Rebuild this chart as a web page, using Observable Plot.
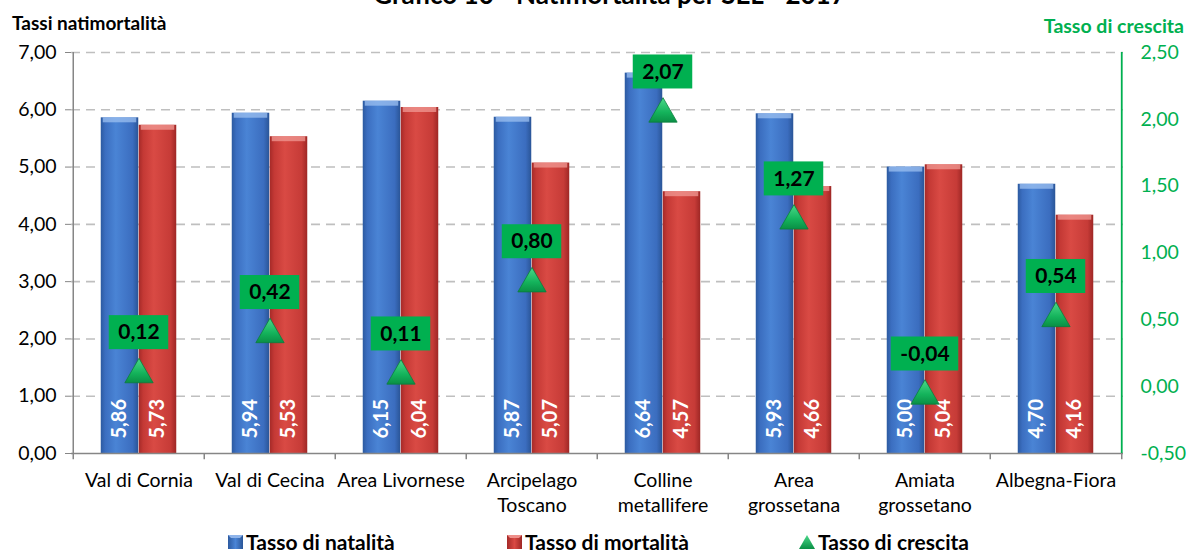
<!DOCTYPE html>
<html>
<head>
<meta charset="utf-8">
<script src="https://cdn.jsdelivr.net/npm/d3@7"></script>
<script src="https://cdn.jsdelivr.net/npm/@observablehq/plot@0.6"></script>
<style>
  html, body { margin: 0; padding: 0; background: #fff; }
  #wrap { position: relative; width: 1195px; height: 553px; overflow: hidden; font-family: Lato, "Open Sans", sans-serif; }
  #title { position: absolute; left: 12px; top: -19px; width: 1195px; text-align: center; font-weight: bold; font-size: 26px; line-height: 1; color: #000; }
  #ylab { position: absolute; left: 12px; top: 13px; font-weight: bold; font-size: 19px; line-height: 1; color: #000; }
  #y2lab { position: absolute; right: 11px; top: 16px; font-weight: bold; font-size: 19.5px; line-height: 1; color: #00b050; }
  #chart { position: absolute; left: 0; top: 0; }
  .leg { position: absolute; top: 531px; font-weight: bold; font-size: 21px; line-height: 1; color: #000; white-space: nowrap; display: flex; align-items: center; }
  .leg svg { margin-right: 3px; }
</style>
</head>
<body>
<div id="wrap">
  <div id="title">Grafico 10 - Natimortalità per SEL - 2017</div>
  <div id="ylab">Tassi natimortalità</div>
  <div id="y2lab">Tasso di crescita</div>
  <div id="chart"></div>
  <div class="leg" style="left:228px"><svg width="15" height="14"><defs><linearGradient id="lgB" x1="0" x2="1"><stop offset="0" stop-color="#2c5aa0"/><stop offset="0.5" stop-color="#4b85d6"/><stop offset="1" stop-color="#2a5597"/></linearGradient></defs><rect width="15" height="14" fill="url(#lgB)"/><path d="M0,0H15L12,3H3Z" fill="#8fb4ea"/></svg>Tasso di natalità</div>
  <div class="leg" style="left:507px"><svg width="15" height="14"><defs><linearGradient id="lgR" x1="0" x2="1"><stop offset="0" stop-color="#a52a28"/><stop offset="0.5" stop-color="#da4a44"/><stop offset="1" stop-color="#9e2725"/></linearGradient></defs><rect width="15" height="14" fill="url(#lgR)"/><path d="M0,0H15L12,3H3Z" fill="#ee8f8a"/></svg>Tasso di mortalità</div>
  <div class="leg" style="left:799px"><svg width="16" height="14"><defs><linearGradient id="lgG" x1="0" y1="0" x2="0" y2="1"><stop offset="0" stop-color="#4bd98a"/><stop offset="1" stop-color="#0a8f45"/></linearGradient></defs><path d="M8,0L16,14H0Z" fill="url(#lgG)"/></svg>Tasso di crescita</div>
</div>
<script>
// ---- data ----
const categories = ["Val di Cornia", "Val di Cecina", "Area Livornese", "Arcipelago Toscano", "Colline metallifere", "Area grossetana", "Amiata grossetano", "Albegna-Fiora"];
const xTickLabels = ["Val di Cornia", "Val di Cecina", "Area Livornese", "Arcipelago\nToscano", "Colline\nmetallifere", "Area\ngrossetana", "Amiata\ngrossetano", "Albegna-Fiora"];
const natalita = [5.86, 5.94, 6.15, 5.87, 6.64, 5.93, 5.00, 4.70];
const mortalita = [5.73, 5.53, 6.04, 5.07, 4.57, 4.66, 5.04, 4.16];
const crescita = [0.12, 0.42, 0.11, 0.80, 2.07, 1.27, -0.04, 0.54];
const leftTicks = [0, 1, 2, 3, 4, 5, 6, 7];
const rightTicks = [-0.5, 0, 0.5, 1, 1.5, 2, 2.5];

// ---- layout ----
const W = 1195, H = 520, mL = 71, mR = 72, mT = 52, mB = 67;
const band = (W - mL - mR) / categories.length;
const barW = 38;
const leftMax = 7, rightMin = -0.5, rightMax = 2.5;
const toLeft = v => (v - rightMin) * leftMax / (rightMax - rightMin);
const fromLeft = v => v * (rightMax - rightMin) / leftMax + rightMin;
const fmt = v => (Math.round(v * 100) / 100 + 0).toFixed(2).replace(".", ",");

const data = categories.map((c, i) => ({cat: c, nat: natalita[i], mor: mortalita[i], cr: crescita[i], crY: toLeft(crescita[i])}));
const pos = data.filter(d => d.cr >= 0), neg = data.filter(d => d.cr < 0);
const axisGray = "#868686";

const svg = Plot.plot({
  width: W, height: H,
  marginLeft: mL, marginRight: mR, marginTop: mT, marginBottom: mB,
  style: {fontFamily: "Lato, 'Open Sans', sans-serif", fontSize: "19px", color: "#000", background: "transparent", overflow: "visible"},
  x: {domain: categories, padding: 0, axis: null, label: null},
  y: {domain: [0, leftMax], axis: null, label: null},
  marks: [
    Plot.gridY(leftTicks.slice(1), {stroke: "#bfbfbf", strokeOpacity: 1, strokeWidth: 1.6, strokeDasharray: "9,6"}),
    // bars
    Plot.barY(data, {x: "cat", y: "nat", fill: "url(#gBlue)", insetLeft: band / 2 - barW, insetRight: band / 2}),
    Plot.barY(data, {x: "cat", y: "mor", fill: "url(#gRed)", insetLeft: band / 2, insetRight: band / 2 - barW}),
    // top bevels
    Plot.barY(data, {x: "cat", y1: "nat", y2: "nat", insetTop: 0, insetBottom: -5, fill: "#9cc0f0", fillOpacity: 0.75, insetLeft: band / 2 - barW + 2, insetRight: band / 2 + 2}),
    Plot.barY(data, {x: "cat", y1: "mor", y2: "mor", insetTop: 0, insetBottom: -5, fill: "#f09a94", fillOpacity: 0.75, insetLeft: band / 2 + 2, insetRight: band / 2 - barW + 2}),
    // value labels inside bars
    Plot.text(data, {x: "cat", y: 0, text: d => fmt(d.nat), rotate: -90, textAnchor: "start", lineAnchor: "middle", dx: -barW / 2, dy: -15, fill: "white", fontWeight: "bold", fontSize: 20}),
    Plot.text(data, {x: "cat", y: 0, text: d => fmt(d.mor), rotate: -90, textAnchor: "start", lineAnchor: "middle", dx: barW / 2, dy: -15, fill: "white", fontWeight: "bold", fontSize: 20}),
    // axes lines
    Plot.ruleY([0], {stroke: axisGray, strokeWidth: 1.5}),
    Plot.ruleX(categories, {x: d => d, y1: 0, y2: -0.11, dx: -band / 2, stroke: axisGray, strokeWidth: 1.5}),
    Plot.ruleX([categories[categories.length - 1]], {x: d => d, y1: 0, y2: -0.11, dx: band / 2, stroke: axisGray, strokeWidth: 1.5}),
    Plot.ruleX([categories[0]], {x: d => d, y1: 0, y2: leftMax, dx: -band / 2, stroke: axisGray, strokeWidth: 1.5}),
    Plot.ruleX([categories[categories.length - 1]], {x: d => d, y1: 0, y2: leftMax, dx: band / 2, stroke: "#00b050", strokeWidth: 1.8}),
    Plot.axisY(leftTicks, {anchor: "left", tickSize: 6, tickPadding: 9, tickFormat: fmt, fontSize: 19.5, stroke: axisGray, fill: "#000"}),
    Plot.axisY(rightTicks.map(toLeft), {anchor: "right", tickSize: 0, tickPadding: 17, tickFormat: v => fmt(fromLeft(v)), fontSize: 19.5, fill: "#00b050"}),
    Plot.axisX({anchor: "bottom", tickSize: 0, tickPadding: 16, fontSize: 19.5, lineHeight: 1.26, tickFormat: d => xTickLabels[categories.indexOf(d)], fill: "#000"}),
    // growth markers
    Plot.dot(data, {x: "cat", y: "crY", symbol: "triangle", r: 10.5, fill: "url(#gGreen)", stroke: "#0b7d3c", strokeWidth: 0.8, dy: 4}),
    Plot.barY(pos, {x: "cat", y1: "crY", y2: "crY", insetTop: -17, insetBottom: -17, dy: -38, insetLeft: band / 2 - 30, insetRight: band / 2 - 30, fill: "#00b050"}),
    Plot.barY(neg, {x: "cat", y1: "crY", y2: "crY", insetTop: -17, insetBottom: -17, dy: -38, insetLeft: band / 2 - 34, insetRight: band / 2 - 34, fill: "#00b050"}),
    Plot.text(data, {x: "cat", y: "crY", text: d => fmt(d.cr), dy: -38, lineAnchor: "middle", fontWeight: "bold", fontSize: 21, fill: "#000"})
  ]
});

// gradients
const defs = d3.select(svg).insert("defs", ":first-child");
function grad(id, stops, vertical) {
  const g = defs.append("linearGradient").attr("id", id).attr("x1", 0).attr("y1", 0).attr("x2", vertical ? 0 : 1).attr("y2", vertical ? 1 : 0);
  stops.forEach(([o, c]) => g.append("stop").attr("offset", o).attr("stop-color", c));
}
grad("gBlue", [[0, "#2c5aa0"], [0.12, "#3b6ec0"], [0.4, "#4a84d5"], [0.85, "#3b6dbf"], [1, "#2a5597"]]);
grad("gRed", [[0, "#a52a28"], [0.12, "#c43935"], [0.4, "#d94a44"], [0.85, "#c63b37"], [1, "#9e2725"]]);
grad("gGreen", [[0, "#4bd98a"], [0.6, "#14b35b"], [1, "#0a8f45"]], true);

document.getElementById("chart").appendChild(svg);
</script>
</body>
</html>
